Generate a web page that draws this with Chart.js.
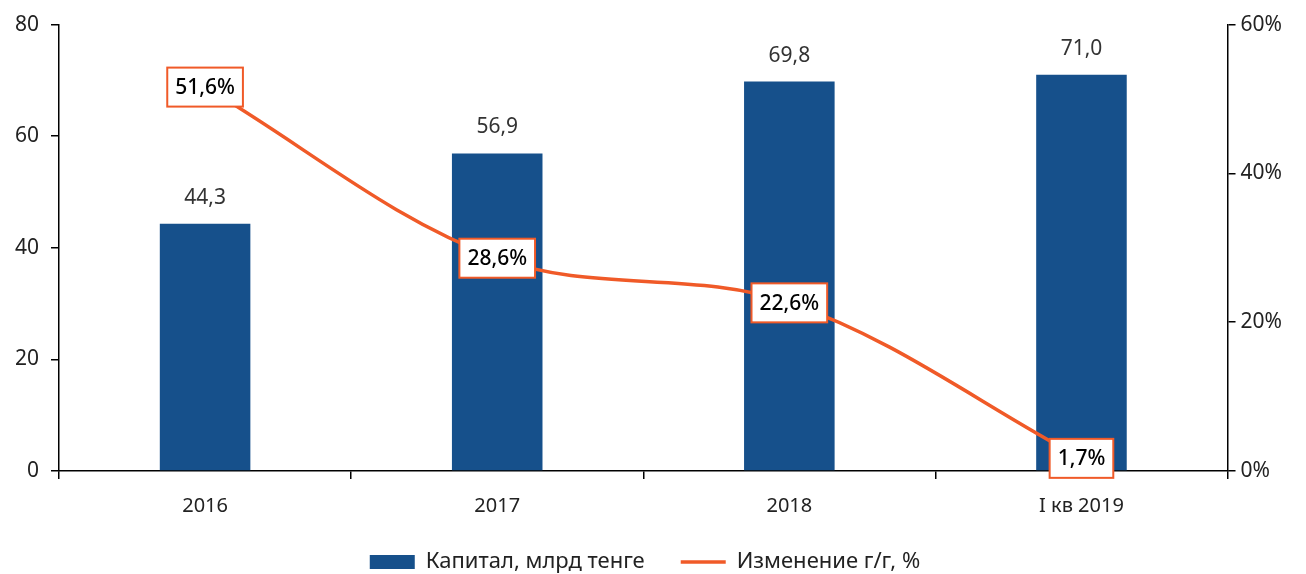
<!DOCTYPE html>
<html>
<head>
<meta charset="utf-8">
<script src="https://cdn.jsdelivr.net/npm/chart.js@4.4.1/dist/chart.umd.min.js"></script>
<style>
html, body { margin: 0; padding: 0; background: #fff; }
#wrap { width: 1306px; height: 574px; }
</style>
</head>
<body>
<div id="wrap"><canvas id="chart"></canvas></div>
<script>
const labels = ["2016", "2017", "2018", "I кв 2019"];
const capital = [44.3, 56.9, 69.8, 71.0];
const change = [51.6, 28.6, 22.6, 1.7];
const leftTicks = [0, 20, 40, 60, 80];
const rightTicks = [0, 20, 40, 60];

const BLUE = "#16508b";
const ORANGE = "#f05a28";
const FONT = "'Noto Sans', 'Open Sans', sans-serif";

function fmt(v, digits) {
    return v.toFixed(digits).replace(".", ",");
}

const labelPlugin = {
    id: "valueLabels",
    afterDatasetsDraw(chart) {
        const ctx = chart.ctx;
        ctx.save();
        ctx.textAlign = "center";
        ctx.textBaseline = "middle";

        // bar values above bars
        ctx.font = "21px " + FONT;
        chart.getDatasetMeta(1).data.forEach((bar, i) => {
            ctx.fillStyle = "#333";
            ctx.fillText(fmt(capital[i], 1), bar.x, bar.y - 26);
        });

        // boxed percentage labels on line points
        ctx.font = "500 21px " + FONT;
        chart.getDatasetMeta(0).data.forEach((pt, i) => {
            const text = fmt(change[i], 1) + "%";
            const w = ctx.measureText(text).width + 16;
            const h = 39;
            ctx.fillStyle = "#fff";
            ctx.fillRect(pt.x - w / 2, pt.y - h / 2, w, h);
            ctx.strokeStyle = ORANGE;
            ctx.lineWidth = 2;
            ctx.strokeRect(pt.x - w / 2, pt.y - h / 2, w, h);
            ctx.fillStyle = "#000";
            ctx.fillText(text, pt.x, pt.y + 1);
        });
        ctx.restore();
    }
};

new Chart(document.getElementById("chart"), {
    type: "bar",
    data: {
        labels: labels,
        datasets: [
            {
                type: "line",
                label: "Изменение г/г, %",
                data: change,
                yAxisID: "y1",
                borderColor: ORANGE,
                backgroundColor: ORANGE,
                borderWidth: 3.5,
                pointRadius: 0,
                tension: 0.35,
                pointStyle: "line",
                order: 0
            },
            {
                type: "bar",
                label: "Капитал, млрд тенге",
                data: capital,
                yAxisID: "y",
                backgroundColor: BLUE,
                barPercentage: 0.31,
                categoryPercentage: 1,
                pointStyle: "rect",
                order: 1
            }
        ]
    },
    options: {
        responsive: true,
        maintainAspectRatio: false,
        animation: false,
        layout: { padding: { top: 6, right: 19, left: 3, bottom: -9 } },
        plugins: {
            tooltip: { enabled: false },
            legend: {
                position: "bottom",
                labels: {
                    sort: (a, b) => b.datasetIndex - a.datasetIndex,
                    usePointStyle: true,
                    pointStyleWidth: 45,
                    boxHeight: 14,
                    padding: 36,
                    color: "#222",
                    font: { family: FONT, size: 22 }
                }
            }
        },
        scales: {
            x: {
                offset: true,
                grid: { offset: true, drawOnChartArea: false, drawTicks: true, tickLength: 8, color: "#000", lineWidth: 1.5 },
                border: { display: true, color: "#000", width: 1.5 },
                ticks: { color: "#222", padding: 15, font: { family: FONT, size: 20 } },
                afterFit: s => { s.height -= 18; }
            },
            y: {
                position: "left",
                min: 0,
                max: 80,
                afterBuildTicks: s => { s.ticks = leftTicks.map(v => ({ value: v })); },
                grid: { drawOnChartArea: false, drawTicks: true, tickLength: 8, color: "#000", lineWidth: 1.5 },
                border: { display: true, color: "#000", width: 1.5 },
                ticks: { color: "#222", padding: 12, font: { family: FONT, size: 21 } }
            },
            y1: {
                position: "right",
                min: 0,
                max: 60,
                afterBuildTicks: s => { s.ticks = rightTicks.map(v => ({ value: v })); },
                grid: { drawOnChartArea: false, drawTicks: true, tickLength: 8, color: "#000", lineWidth: 1.5 },
                border: { display: true, color: "#000", width: 1.5 },
                ticks: { color: "#222", padding: 5, font: { family: FONT, size: 21 }, callback: v => v + "%" }
            }
        }
    },
    plugins: [labelPlugin]
});
</script>
</body>
</html>
